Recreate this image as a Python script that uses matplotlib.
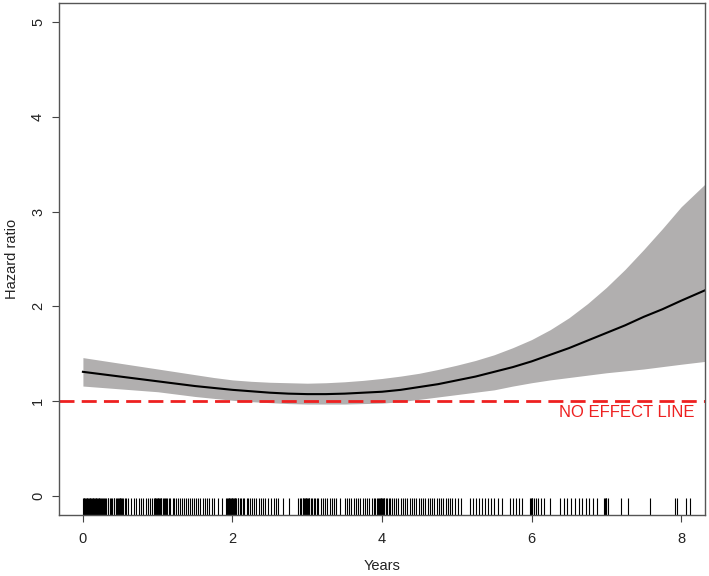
import matplotlib
matplotlib.use("Agg")
import matplotlib.pyplot as plt

plt.rcParams['font.family'] = ['Liberation Sans', 'DejaVu Sans']

# fitted hazard ratio and 95% band
years = [0, 0.25, 0.5, 0.75, 1, 1.25, 1.5, 1.75, 2, 2.25, 2.5, 2.75, 3, 3.25,
         3.5, 3.75, 4, 4.25, 4.5, 4.75, 5, 5.25, 5.5, 5.75, 6, 6.25, 6.5, 6.75,
         7, 7.25, 7.5, 7.75, 8, 8.32]
hr = [1.31, 1.285, 1.26, 1.235, 1.21, 1.185, 1.16, 1.14, 1.12, 1.105, 1.09,
      1.08, 1.075, 1.075, 1.08, 1.09, 1.10, 1.12, 1.15, 1.18, 1.22, 1.26, 1.31,
      1.36, 1.42, 1.49, 1.56, 1.64, 1.72, 1.80, 1.89, 1.97, 2.06, 2.17]
hr_upper = [1.46, 1.43, 1.40, 1.37, 1.34, 1.31, 1.28, 1.25, 1.225, 1.21, 1.20,
            1.195, 1.19, 1.195, 1.205, 1.22, 1.24, 1.265, 1.295, 1.335, 1.38,
            1.43, 1.49, 1.565, 1.65, 1.755, 1.88, 2.03, 2.20, 2.39, 2.60, 2.82,
            3.05, 3.29]
hr_lower = [1.16, 1.145, 1.13, 1.115, 1.10, 1.075, 1.05, 1.03, 1.01, 0.995,
            0.985, 0.975, 0.97, 0.97, 0.97, 0.975, 0.98, 0.995, 1.02, 1.045,
            1.07, 1.095, 1.12, 1.16, 1.195, 1.225, 1.25, 1.275, 1.30, 1.32,
            1.34, 1.365, 1.39, 1.42]

# event times shown as the rug (estimated)
event_times = [
    0.00, 0.01, 0.02, 0.03, 0.04, 0.05, 0.06, 0.07, 0.08, 0.09, 0.10, 0.11,
    0.12, 0.13, 0.14, 0.15, 0.16, 0.17, 0.18, 0.19, 0.20, 0.21, 0.22, 0.23,
    0.24, 0.25, 0.27, 0.28, 0.30, 0.31, 0.33, 0.34, 0.36, 0.38, 0.39, 0.41,
    0.42, 0.44, 0.46, 0.47, 0.48, 0.49, 0.50, 0.51, 0.52, 0.54, 0.56, 0.58,
    0.60,
    0.64, 0.68, 0.71, 0.75, 0.78, 0.81, 0.84, 0.87, 0.90, 0.93,
    0.95, 0.96, 0.97, 0.98, 0.99, 1.00, 1.01, 1.02, 1.03, 1.04, 1.05, 1.07,
    1.08, 1.10, 1.11, 1.13, 1.15, 1.17,
    1.20, 1.22, 1.25, 1.27, 1.30, 1.32, 1.35, 1.38, 1.40, 1.43, 1.46, 1.49,
    1.51, 1.54, 1.57, 1.60, 1.63, 1.66, 1.69, 1.72, 1.75, 1.80, 1.86,
    1.92, 1.93, 1.94, 1.95, 1.96, 1.97, 1.98, 1.99, 2.00, 2.01, 2.02, 2.03,
    2.04, 2.05, 2.07, 2.08, 2.10, 2.12, 2.14, 2.16,
    2.19, 2.21, 2.24, 2.26, 2.29, 2.32, 2.35, 2.38, 2.41, 2.44, 2.47, 2.51,
    2.55, 2.58, 2.61, 2.68, 2.76,
    2.88, 2.90, 2.92, 2.94, 2.95, 2.96, 2.97, 2.98, 2.99, 3.00, 3.01, 3.02,
    3.03, 3.05, 3.07, 3.09, 3.11, 3.13, 3.15, 3.18,
    3.21, 3.24, 3.27, 3.30, 3.33, 3.36, 3.39, 3.44, 3.50, 3.53, 3.56, 3.59,
    3.62, 3.65, 3.68, 3.71, 3.74, 3.77, 3.80, 3.83, 3.86, 3.89,
    3.91, 3.93, 3.95, 3.96, 3.97, 3.98, 3.99, 4.00, 4.01, 4.02, 4.03, 4.05,
    4.07, 4.09, 4.11, 4.13, 4.16, 4.19, 4.22,
    4.25, 4.28, 4.31, 4.34, 4.37, 4.40, 4.43, 4.46, 4.49, 4.52, 4.55, 4.58,
    4.61, 4.64, 4.67, 4.70, 4.73, 4.76, 4.79, 4.82, 4.85, 4.88, 4.91, 4.94,
    4.97, 5.01, 5.05,
    5.18, 5.22, 5.26, 5.30, 5.34, 5.38, 5.42, 5.46, 5.50, 5.55, 5.60,
    5.71, 5.75, 5.79, 5.83, 5.87, 5.98, 5.99, 6.00, 6.01, 6.03, 6.06, 6.09,
    6.12, 6.16, 6.25, 6.38, 6.43, 6.48, 6.53, 6.58, 6.63, 6.68, 6.73, 6.77,
    6.82, 6.87, 6.97, 6.98, 6.99, 7.00, 7.02, 7.20, 7.29, 7.58, 7.92, 7.95,
    8.06, 8.12,
]

x_ticks = [0, 2, 4, 6, 8]
y_ticks = [0, 1, 2, 3, 4, 5]

fig = plt.figure(figsize=(7.09, 5.76), dpi=100)
ax = fig.add_axes([0.0832, 0.1059, 0.9112, 0.8889])

ax.fill_between(years, hr_lower, hr_upper, color='#b1afaf', linewidth=0)
ax.plot(years, hr, color='black', linewidth=1.5)
ax.axhline(1, color='#ee2020', linewidth=2, dashes=(5.4, 2.6))
ax.text(8.18, 0.955, 'NO EFFECT LINE', color='#ee2020', fontsize=12,
        ha='right', va='top')

# rug along the bottom
ax.vlines(event_times, 0, 0.034, transform=ax.get_xaxis_transform(),
          color='black', linewidth=0.8)

ax.set_xlim(-0.32, 8.32)
ax.set_ylim(-0.2, 5.2)
ax.set_xticks(x_ticks)
ax.set_yticks(y_ticks)
ax.tick_params(length=5, width=0.8, color='#444444', labelsize=10.5,
               labelcolor='#222222')
ax.tick_params(axis='x', pad=7)
ax.tick_params(axis='y', pad=5)
plt.setp(ax.get_yticklabels(), rotation=90, va='center')

for s in ax.spines.values():
    s.set_color('#555555')
    s.set_linewidth(1.0)

ax.set_xlabel('Years', fontsize=10.5, color='#222222', va='center')
ax.set_ylabel('Hazard ratio', fontsize=10.5, color='#222222', va='center')
ax.xaxis.set_label_coords(0.5, -0.1)
ax.yaxis.set_label_coords(-0.072, 0.5)

fig.savefig('out.png', dpi=100)
